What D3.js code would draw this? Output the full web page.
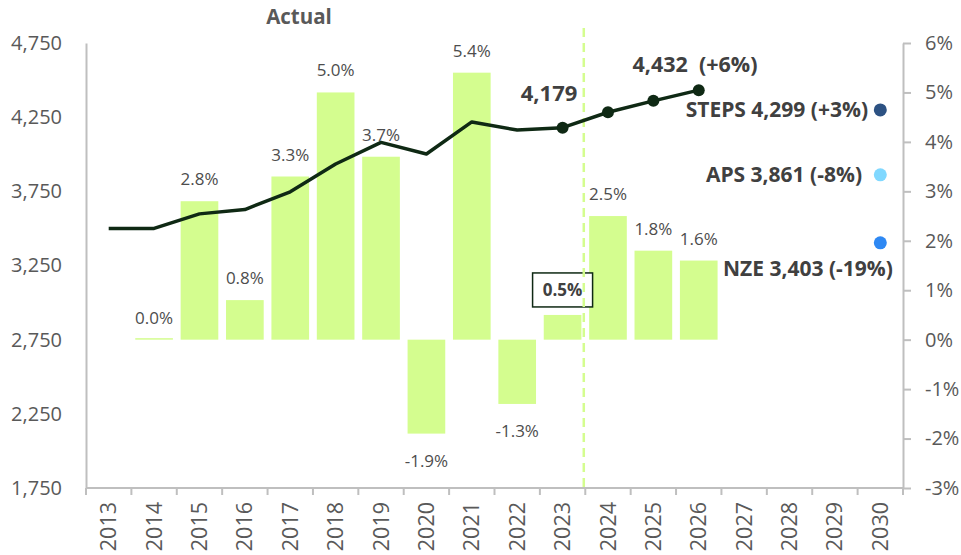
<!DOCTYPE html>
<html>
<head>
<meta charset="utf-8">
<script src="https://cdn.jsdelivr.net/npm/d3@7"></script>
<style>
  body { margin: 0; background: #fff; }
  svg { font-family: "Open Sans", sans-serif; }
</style>
</head>
<body>
<svg id="chart"></svg>
<script>
// chart data
var years = ["2013","2014","2015","2016","2017","2018","2019","2020","2021","2022","2023","2024","2025","2026","2027","2028","2029","2030"];
var growthYears = ["2014","2015","2016","2017","2018","2019","2020","2021","2022","2023","2024","2025","2026"];
var growth = [0.0, 2.8, 0.8, 3.3, 5.0, 3.7, -1.9, 5.4, -1.3, 0.5, 2.5, 1.8, 1.6];
var demandYears = ["2013","2014","2015","2016","2017","2018","2019","2020","2021","2022","2023","2024","2025","2026"];
var demand = [3500, 3500, 3598, 3627, 3747, 3934, 4080, 4002, 4218, 4163, 4179, 4283, 4360, 4432];
var forecastYears = ["2023","2024","2025","2026"];
var scenarioNames = ["STEPS", "APS", "NZE"];
var scenarioValues = [4299, 3861, 3403];
var scenarioChanges = ["+3%", "-8%", "-19%"];
var scenarioColors = ["#2d5283", "#80d8ff", "#2e88f3"];
var leftTicks = [1750, 2250, 2750, 3250, 3750, 4250, 4750];
var rightTicks = [-3, -2, -1, 0, 1, 2, 3, 4, 5, 6];

var width = 961, height = 555;
var plotLeft = 86, plotRight = 903, plotTop = 43, plotBottom = 488;
var textGrey = "#595959", boldGrey = "#404040", axisGrey = "#bfbfbf";
var barColor = "#d4fd8f", lineColor = "#0f2914";

var svg = d3.select("#chart").attr("width", width).attr("height", height);

var x = d3.scaleBand().domain(years).range([plotLeft, plotRight]).paddingInner(0.17).paddingOuter(0.085);
var yL = d3.scaleLinear().domain([1750, 4750]).range([plotBottom, plotTop]);
var yR = d3.scaleLinear().domain([-3, 6]).range([plotBottom, plotTop]);
var edge = function (yr) { return x(yr) - x.step() * x.paddingInner() / 2; };
var mid = function (yr) { return x(yr) + x.bandwidth() / 2; };
var pct = function (v) { return v.toFixed(1) + "%"; };

//left axis, no tick marks
var gL = svg.append("g").attr("transform", "translate(" + plotLeft + ",0)")
    .call(d3.axisLeft(yL).tickValues(leftTicks).tickFormat(d3.format(",")).tickSize(0).tickPadding(24));
//right axis, ticks pointing out
var gR = svg.append("g").attr("transform", "translate(" + plotRight + ",0)")
    .call(d3.axisRight(yR).tickValues(rightTicks).tickFormat(d => d + "%").tickSizeInner(8).tickSizeOuter(0).tickPadding(14));
[gL, gR].forEach(function (g) {
    g.select(".domain").attr("stroke", axisGrey).attr("stroke-width", 2);
    g.selectAll(".tick line").attr("stroke", axisGrey).attr("stroke-width", 2);
    g.selectAll("text").attr("fill", textGrey).style("font-size", "20px").style("font-family", "Open Sans");
});

//bottom axis with ticks on category edges
var gB = svg.append("g");
gB.append("line").attr("x1", plotLeft).attr("x2", plotRight).attr("y1", plotBottom).attr("y2", plotBottom)
    .attr("stroke", axisGrey).attr("stroke-width", 2);
gB.selectAll(".edge").data(years.concat(["end"])).enter().append("line")
    .attr("x1", (d, i) => plotLeft + i * x.step()).attr("x2", (d, i) => plotLeft + i * x.step())
    .attr("y1", plotBottom).attr("y2", plotBottom + 7)
    .attr("stroke", axisGrey).attr("stroke-width", 2);
gB.selectAll(".yr").data(years).enter().append("text")
    .attr("transform", d => "translate(" + mid(d) + "," + (plotBottom + 14) + ") rotate(-90)")
    .attr("text-anchor", "end").attr("dy", "0.35em")
    .attr("fill", textGrey).style("font-size", "21.5px")
    .text(d => d);

//growth bars on right axis
var bars = growthYears.map((yr, i) => ({ year: yr, value: growth[i] }));
svg.selectAll(".bar").data(bars).enter().append("rect")
    .attr("x", d => x(d.year))
    .attr("width", x.bandwidth())
    .attr("y", d => d.value >= 0 ? yR(d.value) - (d.value == 0 ? 1.5 : 0) : yR(0))
    .attr("height", d => Math.max(1.5, Math.abs(yR(d.value) - yR(0))))
    .attr("fill", barColor);

//percent labels (0.5% gets a box)
svg.selectAll(".pct").data(bars.filter(d => d.year != "2023")).enter().append("text")
    .attr("x", d => mid(d.year))
    .attr("y", d => d.value >= 0 ? yR(d.value) - 16 : yR(d.value) + 33)
    .attr("text-anchor", "middle")
    .attr("fill", "#4d4d4d").style("font-size", "17px")
    .text(d => pct(d.value));

var boxed = bars.filter(d => d.year == "2023")[0];
svg.append("rect")
    .attr("x", mid(boxed.year) - 30).attr("y", yR(boxed.value) - 42)
    .attr("width", 60).attr("height", 34)
    .attr("fill", "#fff").attr("stroke", lineColor).attr("stroke-width", 1.5);
svg.append("text")
    .attr("x", mid(boxed.year)).attr("y", yR(boxed.value) - 19)
    .attr("text-anchor", "middle").attr("fill", boldGrey)
    .style("font-size", "17px").style("font-weight", "bold")
    .text(pct(boxed.value));

//dashed divider between actual and forecast
svg.append("line")
    .attr("x1", edge("2024") - 1.5).attr("x2", edge("2024") - 1.5)
    .attr("y1", 28).attr("y2", plotBottom)
    .attr("stroke", barColor).attr("stroke-width", 2.5).attr("stroke-dasharray", "9,6");

//demand line
var pts = demandYears.map((yr, i) => ({ year: yr, value: demand[i] }));
svg.append("path").datum(pts)
    .attr("fill", "none").attr("stroke", lineColor).attr("stroke-width", 3.5).attr("stroke-linejoin", "round")
    .attr("d", d3.line().x(d => mid(d.year)).y(d => yL(d.value)));
svg.selectAll(".dot").data(pts.filter(d => forecastYears.indexOf(d.year) != -1)).enter().append("circle")
    .attr("cx", d => mid(d.year)).attr("cy", d => yL(d.value)).attr("r", 6)
    .attr("fill", lineColor);

//scenario dots in 2030
svg.selectAll(".scen").data(scenarioNames).enter().append("circle")
    .attr("cx", mid("2030")).attr("cy", (d, i) => yL(scenarioValues[i])).attr("r", 6.5)
    .attr("fill", (d, i) => scenarioColors[i]);

//annotations
function bold(txt, xPos, yPos, anchor, size, color) {
    return svg.append("text").attr("x", xPos).attr("y", yPos).attr("text-anchor", anchor)
        .attr("fill", color || boldGrey).style("font-size", size + "px").style("font-weight", "bold")
        .style("white-space", "pre").text(txt);
}
var fmt = d3.format(",");
bold("Actual", 299, 24, "middle", 20.5, textGrey);
bold(fmt(demand[10]), 549, 101, "middle", 22);
bold(fmt(demand[13]) + "  (+6%)", 695, 72, "middle", 21.5);
bold(scenarioNames[0] + " " + fmt(scenarioValues[0]) + " (" + scenarioChanges[0] + ")", 868, 117, "end", 21);
bold(scenarioNames[1] + " " + fmt(scenarioValues[1]) + " (" + scenarioChanges[1] + ")", 862, 182, "end", 21);
bold(scenarioNames[2] + " " + fmt(scenarioValues[2]) + " (" + scenarioChanges[2] + ")", 723, 276, "start", 21);
</script>
</body>
</html>
